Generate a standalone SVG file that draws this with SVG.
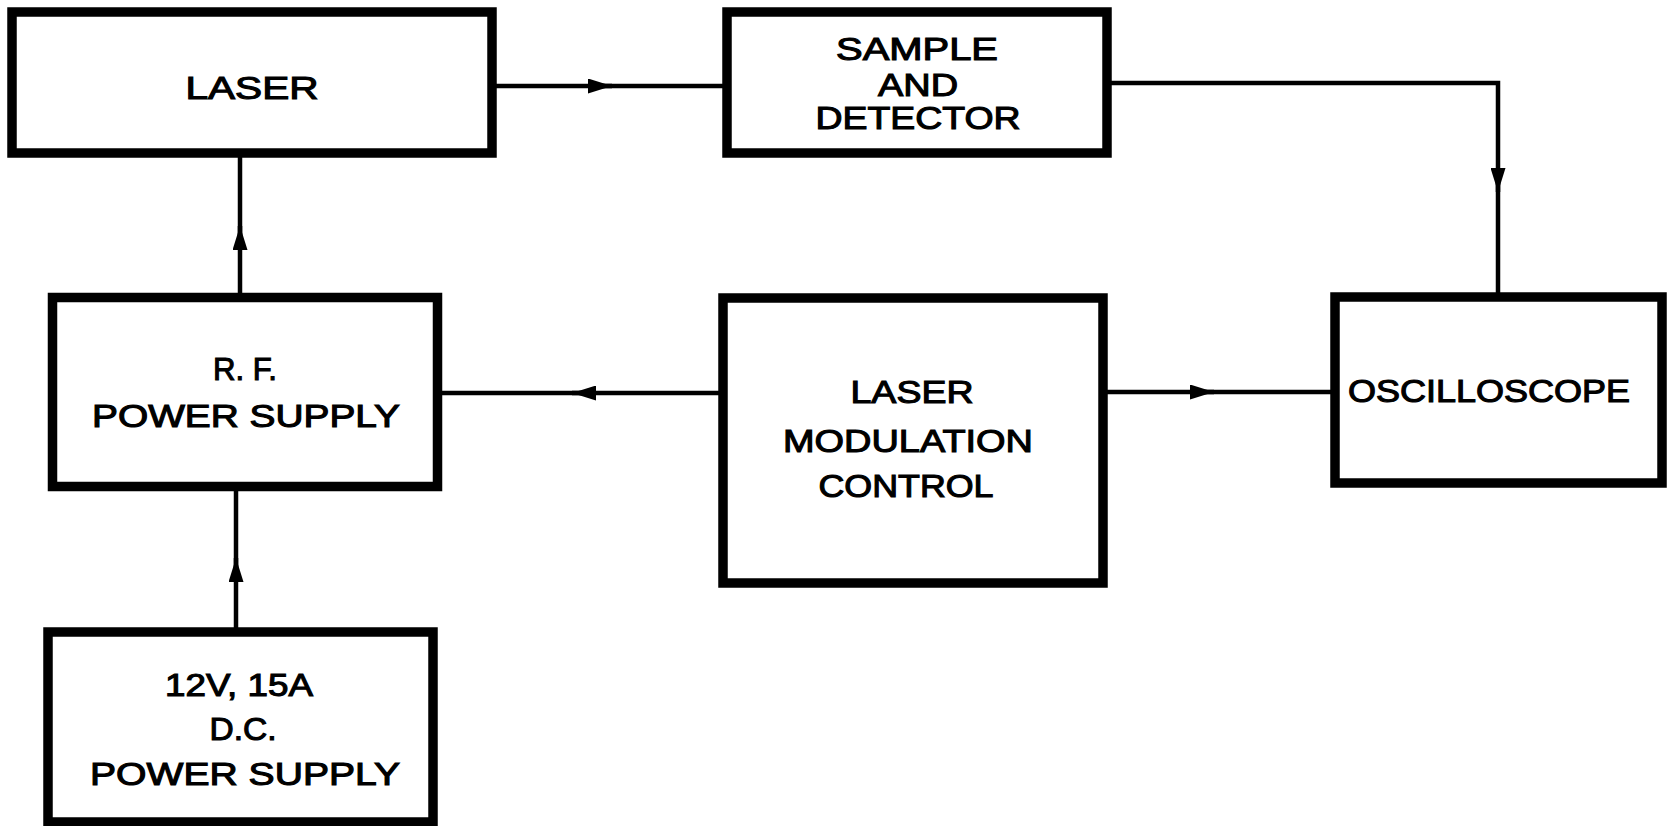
<svg xmlns="http://www.w3.org/2000/svg" width="1667" height="826" viewBox="0 0 1667 826">
  <style>
    .box { fill: #fff; stroke: #000; stroke-width: 9.5; stroke-linejoin: miter; }
    .lbl { font-family: "Liberation Sans", Arial, sans-serif; font-size: 32px; fill: #000; stroke: #000; stroke-width: 1.1; text-anchor: middle; }
    .wire { fill: none; stroke: #000; stroke-width: 4.5; }
  </style>
  <defs>
    <marker id="arrow" markerUnits="userSpaceOnUse" viewBox="0 0 24 15" refX="24" refY="7.5" markerWidth="24" markerHeight="15" orient="auto">
      <path d="M0 0 L24 7.5 L0 15 Z" fill="#000"/>
    </marker>
  </defs>
  <rect width="1667" height="826" fill="#fff"/>

  <g id="connectors">
    <path class="wire" d="M495 86 H612" marker-end="url(#arrow)"/>
    <path class="wire" d="M600 86 H724"/>
    <path class="wire" d="M1110 83 H1498 V192" marker-end="url(#arrow)"/>
    <path class="wire" d="M1498 180 V294"/>
    <path class="wire" d="M240 295 V226" marker-end="url(#arrow)"/>
    <path class="wire" d="M240 238 V156"/>
    <path class="wire" d="M236 629 V558" marker-end="url(#arrow)"/>
    <path class="wire" d="M236 570 V489"/>
    <path class="wire" d="M720 393 H572" marker-end="url(#arrow)"/>
    <path class="wire" d="M584 393 H440"/>
    <path class="wire" d="M1106 392 H1214" marker-end="url(#arrow)"/>
    <path class="wire" d="M1202 392 H1332"/>
  </g>

  <g id="laser">
    <rect class="box" x="12" y="12" width="480" height="141"/>
    <text class="lbl" x="252" y="99" textLength="133" lengthAdjust="spacingAndGlyphs">LASER</text>
  </g>

  <g id="sample-detector">
    <rect class="box" x="727" y="12" width="380" height="141"/>
    <text class="lbl" x="917" y="60" textLength="162" lengthAdjust="spacingAndGlyphs">SAMPLE</text>
    <text class="lbl" x="918" y="96" textLength="80" lengthAdjust="spacingAndGlyphs">AND</text>
    <text class="lbl" x="918" y="129" textLength="205" lengthAdjust="spacingAndGlyphs">DETECTOR</text>
  </g>

  <g id="rf-power-supply">
    <rect class="box" x="52.5" y="297.5" width="385" height="189"/>
    <text class="lbl" x="245" y="380" textLength="64" lengthAdjust="spacingAndGlyphs">R. F.</text>
    <text class="lbl" x="246" y="427" textLength="308" lengthAdjust="spacingAndGlyphs">POWER  SUPPLY</text>
  </g>

  <g id="dc-power-supply">
    <rect class="box" x="48" y="632" width="385" height="190"/>
    <text class="lbl" x="239" y="696" textLength="148" lengthAdjust="spacingAndGlyphs">12V, 15A</text>
    <text class="lbl" x="243" y="740" textLength="67" lengthAdjust="spacingAndGlyphs">D.C.</text>
    <text class="lbl" x="245" y="785" textLength="310" lengthAdjust="spacingAndGlyphs">POWER  SUPPLY</text>
  </g>

  <g id="laser-modulation-control">
    <rect class="box" x="723" y="298" width="380" height="285"/>
    <text class="lbl" x="912" y="403" textLength="123" lengthAdjust="spacingAndGlyphs">LASER</text>
    <text class="lbl" x="908" y="452" textLength="250" lengthAdjust="spacingAndGlyphs">MODULATION</text>
    <text class="lbl" x="906" y="497" textLength="175" lengthAdjust="spacingAndGlyphs">CONTROL</text>
  </g>

  <g id="oscilloscope">
    <rect class="box" x="1335" y="297" width="327" height="186"/>
    <text class="lbl" x="1489" y="402" textLength="282" lengthAdjust="spacingAndGlyphs">OSCILLOSCOPE</text>
  </g>
</svg>
